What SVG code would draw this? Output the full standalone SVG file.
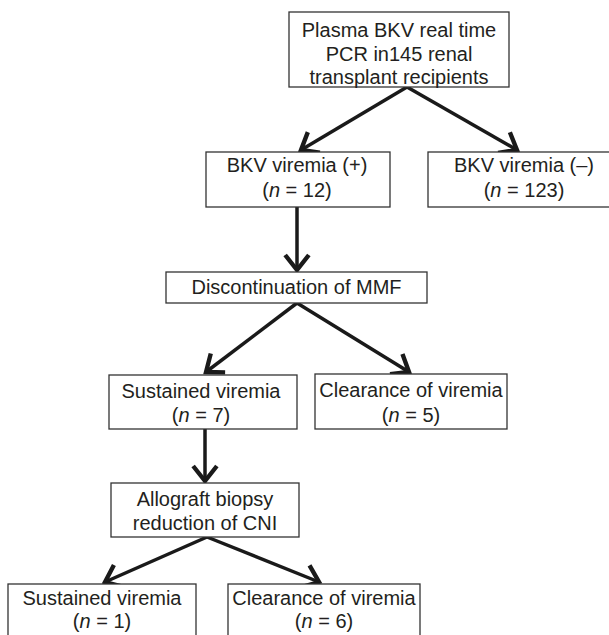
<svg xmlns="http://www.w3.org/2000/svg" width="609" height="635" viewBox="0 0 609 635">
<defs>
<style>
.box{fill:#fff;stroke:#333;stroke-width:1.3}
.t{font-family:"Liberation Sans",Arial,sans-serif;font-size:20px;fill:#231f20;text-anchor:middle}
.e{stroke:#1a1a1a;stroke-width:3.5;fill:none;marker-end:url(#ah)}
</style>
<marker id="ah" markerUnits="userSpaceOnUse" markerWidth="30" markerHeight="30" viewBox="-16 -12 20 24" refX="0" refY="0" orient="auto">
<path d="M-12,-9.5 L0,0 L-12,9.5" fill="none" stroke="#1a1a1a" stroke-width="3.5" stroke-linejoin="miter"/>
</marker>
</defs>
<rect width="609" height="635" fill="#fff"/>
<g id="connectors">
<line class="e" x1="407" y1="87" x2="301" y2="150"/>
<line class="e" x1="407" y1="87" x2="517" y2="150"/>
<line class="e" x1="297" y1="207" x2="297" y2="270"/>
<line class="e" x1="297" y1="303" x2="206" y2="372"/>
<line class="e" x1="297" y1="303" x2="409" y2="372"/>
<line class="e" x1="205" y1="429" x2="205" y2="481"/>
<line class="e" x1="207" y1="537" x2="105" y2="582"/>
<line class="e" x1="207" y1="537" x2="319" y2="582"/>
</g>
<g id="n1">
<rect class="box" x="289" y="12" width="220" height="75"/>
<text class="t" x="399" y="37">Plasma BKV real time</text>
<text class="t" x="399" y="61">PCR in145 renal</text>
<text class="t" x="399" y="84">transplant recipients</text>
</g>
<g id="n2">
<rect class="box" x="206" y="152" width="184" height="55"/>
<text class="t" x="297" y="172">BKV viremia (+)</text>
<text class="t" x="297" y="197">(<tspan font-style="italic">n</tspan> = 12)</text>
</g>
<g id="n3">
<rect class="box" x="428" y="152" width="192" height="55"/>
<text class="t" x="524" y="172">BKV viremia (–)</text>
<text class="t" x="524" y="197">(<tspan font-style="italic">n</tspan> = 123)</text>
</g>
<g id="n4">
<rect class="box" x="166" y="272" width="261" height="31"/>
<text class="t" x="296.5" y="294">Discontinuation of MMF</text>
</g>
<g id="n5">
<rect class="box" x="109" y="375" width="188" height="54"/>
<text class="t" x="201" y="398">Sustained viremia</text>
<text class="t" x="201" y="422">(<tspan font-style="italic">n</tspan> = 7)</text>
</g>
<g id="n6">
<rect class="box" x="315" y="374" width="192" height="55"/>
<text class="t" x="411" y="397">Clearance of viremia</text>
<text class="t" x="411" y="422">(<tspan font-style="italic">n</tspan> = 5)</text>
</g>
<g id="n7">
<rect class="box" x="111" y="483" width="188" height="54"/>
<text class="t" x="205" y="506">Allograft biopsy</text>
<text class="t" x="205" y="530">reduction of CNI</text>
</g>
<g id="n8">
<rect class="box" x="8" y="584" width="188" height="60"/>
<text class="t" x="102" y="605">Sustained viremia</text>
<text class="t" x="102" y="628">(<tspan font-style="italic">n</tspan> = 1)</text>
</g>
<g id="n9">
<rect class="box" x="228" y="584" width="192" height="60"/>
<text class="t" x="324" y="605">Clearance of viremia</text>
<text class="t" x="324" y="628">(<tspan font-style="italic">n</tspan> = 6)</text>
</g>
</svg>
